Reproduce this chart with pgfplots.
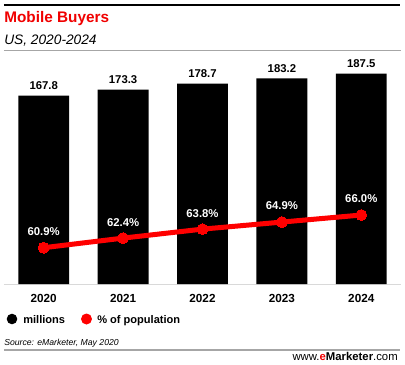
\documentclass[border=0pt]{standalone}
\usepackage{fontspec}
\setmainfont{Liberation Sans}
\usepackage{pgfplots}
\pgfplotsset{compat=1.18}
\definecolor{emred}{RGB}{240,0,0}
\definecolor{linered}{RGB}{255,0,0}
\begin{document}
\begin{tikzpicture}
\path[use as bounding box] (0,0) rectangle (303.75pt,-273.75pt);
\begin{scope}[x=0.75pt,y=-0.75pt]
\draw[line width=1.5pt] (4,4.5) -- (400,4.5);
\node[anchor=base west, font=\bfseries\fontsize{11.5}{13}\selectfont, text=emred, inner sep=0] at (4,22) {Mobile Buyers};
\node[anchor=base west, font=\itshape\fontsize{10.3}{12}\selectfont, inner sep=0] at (4,44) {US, 2020-2024};
\draw[black!35, line width=0.75pt] (4,50.5) -- (401,50.5);
\draw[black!15, line width=0.6pt] (4,284.5) -- (401,284.5);
% legend
\fill[black] (12,319) circle (5.3);
\node[anchor=base west, font=\bfseries\fontsize{8.3}{10}\selectfont, inner sep=0] at (23,323.5) {millions};
\fill[linered] (86.5,319) circle (5.5);
\node[anchor=base west, font=\bfseries\fontsize{8.3}{10}\selectfont, inner sep=0] at (97,323.5) {\% of population};
\node[anchor=base west, font=\itshape\fontsize{6.5}{8}\selectfont, inner sep=0] at (4,345) {Source: eMarketer, May 2020};
\draw[black!35, line width=1pt] (4,350) -- (400,350);
\node[anchor=base east, font=\fontsize{8.5}{10}\selectfont, inner sep=0] at (398,360) {www.{\bfseries\color{emred}e}{\bfseries Marketer}.com};
\end{scope}
\begin{axis}[
  at={(3pt,-213pt)}, anchor=south west,
  scale only axis, width=297.75pt, height=171.75pt,
  xmin=-0.5, xmax=4.5, ymin=0, ymax=204.1,
  /pgf/number format/assume math mode=true,
  axis y line=none, axis x line*=bottom,
  x axis line style={draw=none},
  xtick=data, xticklabels={2020,2021,2022,2023,2024},
  major tick length=0pt,
  xticklabel style={font=\bfseries\fontsize{8.8}{10}\selectfont, anchor=center, yshift=-10.5pt},
  ybar, bar width=0.64,
  nodes near coords={\pgfmathprintnumber[fixed,fixed zerofill,precision=1,assume math mode=true]{\pgfplotspointmeta}},
  every node near coord/.append style={font=\bfseries\fontsize{8.5}{10}\selectfont, anchor=center, yshift=7.3pt, text=black},
  clip=false,
]
\addplot[fill=black, draw=none] coordinates {(0,167.8) (1,173.3) (2,178.7) (3,183.2) (4,187.5)};
\end{axis}
\begin{axis}[
  at={(3pt,-213pt)}, anchor=south west,
  scale only axis, width=297.75pt, height=171.75pt,
  xmin=-0.5, xmax=4.5, ymin=55.24, ymax=90.96,
  /pgf/number format/assume math mode=true,
  hide axis, clip=false,
  nodes near coords={\pgfmathprintnumber[fixed,fixed zerofill,precision=1,assume math mode=true]{\pgfplotspointmeta}\%},
  every node near coord/.append style={font=\bfseries\fontsize{8.5}{10}\selectfont, anchor=center, yshift=12pt, text=white},
]
\addplot[linered, line width=3.75pt, mark=*, mark size=4.1pt, mark options={fill=linered, draw=linered, line width=0pt}] coordinates {(0,60.9) (1,62.4) (2,63.8) (3,64.9) (4,66.0)};
\end{axis}
\end{tikzpicture}
\end{document}
